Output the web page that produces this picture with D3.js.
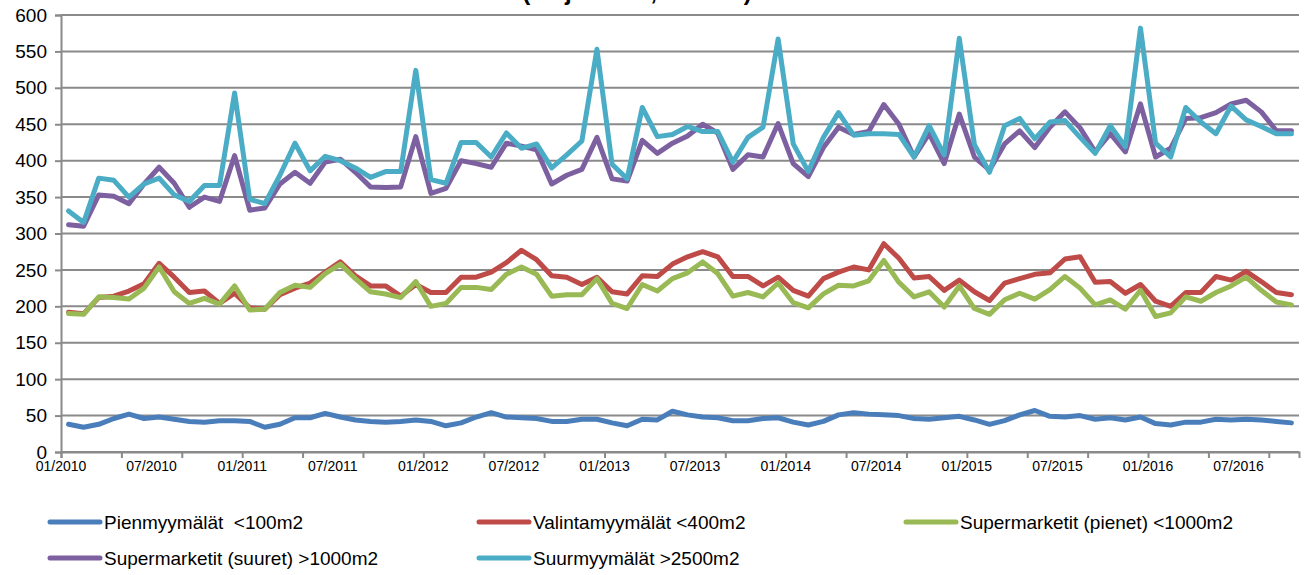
<!DOCTYPE html>
<html>
<head>
<meta charset="utf-8">
<script src="https://cdn.jsdelivr.net/npm/d3@7"></script>
<style>
  body { margin: 0; background: #fff; }
  text { font-family: "Liberation Sans", Arial, sans-serif; fill: #000; }
</style>
</head>
<body>
<div id="chart-area"></div>
<script>
// monthly sales, 01/2010 - 10/2016
let pienmyymalat = [38,34,38,46,52,46,48,45,42,41,43,43,42,34,38,47,47,53,48,44,42,41,42,44,42,36,40,48,
  54,48,47,46,42,42,45,45,40,36,45,44,56,51,48,47,43,43,46,47,41,37,42,51,
  54,52,51,50,46,45,47,49,44,38,43,51,57,49,48,50,45,47,44,48,39,37,41,41,
  45,44,45,44,42,40]
let valintamyymalat = [192,190,212,214,221,231,259,240,219,221,204,218,198,196,216,225,232,247,261,242,228,228,214,230,219,219,240,240,
  247,260,277,264,242,240,230,240,220,217,242,241,258,268,275,268,241,241,228,240,222,214,238,247,
  254,250,286,266,239,241,222,236,220,208,232,238,244,246,265,268,233,234,218,230,207,200,219,219,
  241,236,248,234,219,216]
let superPienet = [190,189,213,212,210,225,254,220,204,211,203,228,195,196,219,229,226,245,258,238,220,217,212,234,200,204,226,226,
  223,244,254,244,214,216,216,238,204,197,230,221,238,246,261,245,214,219,213,232,205,198,217,229,
  228,235,263,233,213,220,199,228,197,189,209,218,210,223,241,225,202,209,196,222,186,191,213,207,
  219,228,240,222,206,202]
let superSuuret = [312,310,353,351,341,368,391,369,336,350,344,407,332,335,368,384,369,398,402,384,364,363,364,433,355,362,400,396,
  391,424,420,415,368,380,388,432,375,372,428,410,424,434,450,438,388,408,405,451,396,378,418,446,
  436,440,477,450,405,437,396,464,405,387,423,441,418,446,467,445,412,437,412,478,405,417,458,459,
  466,478,483,467,441,441]
let suurmyymalat = [331,315,376,373,350,368,376,353,344,366,366,493,347,341,380,424,386,406,400,390,377,385,385,524,374,369,425,425,
  405,438,417,423,390,408,427,553,395,375,473,433,436,447,440,440,398,432,446,567,423,385,432,466,
  435,437,437,436,405,448,408,568,422,384,448,458,430,453,455,432,410,448,419,582,424,405,473,453,
  437,475,456,447,437,437]

let seriesNames = ["Pienmyymälät  <100m2", "Valintamyymälät <400m2", "Supermarketit (pienet) <1000m2",
  "Supermarketit (suuret) >1000m2", "Suurmyymälät >2500m2"]
let seriesValues = [pienmyymalat, valintamyymalat, superPienet, superSuuret, suurmyymalat]
let seriesColors = ["#4a7ebb", "#be4b48", "#98b954", "#7d60a0", "#4bacc6"]

let months = d3.timeMonths(new Date(2010, 0, 1), new Date(2016, 10, 1)).map(d3.timeFormat("%m/%Y"))
let xTickLabels = ["01/2010","07/2010","01/2011","07/2011","01/2012","07/2012","01/2013",
  "07/2013","01/2014","07/2014","01/2015","07/2015","01/2016","07/2016"]
let yTicks = [0,50,100,150,200,250,300,350,400,450,500,550,600]

let width = 1307, height = 575
let plot = { left: 61, right: 1299, top: 15, bottom: 452 }
let gridColor = "#8a8a8a"

let svg = d3.select("#chart-area").append("svg")
  .attr("width", width)
  .attr("height", height)

let x = d3.scaleLinear()
  .domain([0, months.length])
  .range([plot.left, plot.right])

let y = d3.scaleLinear()
  .domain([0, 600])
  .range([plot.bottom, plot.top])

// title (mostly cut off at the top edge)
svg.append("text")
  .attr("x", 637)
  .attr("y", 0)
  .attr("text-anchor", "middle")
  .attr("font-size", 24)
  .attr("font-weight", "bold")
  .text("(milj. euroa, sis. alv)")

// gridlines
svg.append("g")
  .selectAll("line")
  .data(yTicks)
  .enter().append("line")
    .attr("x1", plot.left)
    .attr("x2", plot.right)
    .attr("y1", d => y(d))
    .attr("y2", d => y(d))
    .attr("stroke", gridColor)
    .attr("stroke-width", 2)

// y axis
let yAxis = svg.append("g")
  .attr("transform", "translate(" + plot.left + ",0)")
  .call(d3.axisLeft(y).tickValues(yTicks).tickSize(6).tickPadding(8))
yAxis.select(".domain").attr("stroke", gridColor).attr("stroke-width", 2)
yAxis.selectAll(".tick line").attr("stroke", gridColor).attr("stroke-width", 2)
yAxis.selectAll(".tick text")
  .attr("font-size", 19)
  .attr("font-family", "Liberation Sans, Arial, sans-serif")
  .attr("fill", "#000")

// x axis: tick marks every 4 months, labels every 6 months
let tickIdx = d3.range(0, months.length, 4)
let xAxis = svg.append("g")
  .attr("transform", "translate(0," + plot.bottom + ")")
  .call(d3.axisBottom(x).tickValues(tickIdx).tickSize(6).tickFormat(""))
xAxis.select(".domain").attr("stroke", gridColor).attr("stroke-width", 2)
xAxis.selectAll(".tick line").attr("stroke", gridColor).attr("stroke-width", 2)

svg.append("g")
  .selectAll("text")
  .data(xTickLabels)
  .enter().append("text")
    .attr("x", d => x(months.indexOf(d)))
    .attr("y", plot.bottom + 19)
    .attr("text-anchor", "middle")
    .attr("font-size", 14)
    .text(d => d)

// lines
let line = d3.line()
  .x((d, i) => x(i + 0.5))
  .y(d => y(d))

svg.append("g")
  .selectAll("path")
  .data(seriesValues)
  .enter().append("path")
    .attr("d", d => line(d))
    .attr("fill", "none")
    .attr("stroke", (d, i) => seriesColors[i])
    .attr("stroke-width", 5)
    .attr("stroke-linejoin", "round")
    .attr("stroke-linecap", "round")

// legend
let legendPos = [[48, 522], [477, 522], [904, 522], [48, 558], [477, 558]]
let legend = svg.append("g")
  .selectAll("g")
  .data(seriesNames)
  .enter().append("g")
    .attr("transform", (d, i) => "translate(" + legendPos[i][0] + "," + legendPos[i][1] + ")")

legend.append("line")
  .attr("x1", 2)
  .attr("x2", 52)
  .attr("stroke", (d, i) => seriesColors[i])
  .attr("stroke-width", 5)
  .attr("stroke-linecap", "round")

legend.append("text")
  .attr("x", 56)
  .attr("y", 7)
  .attr("font-size", 19)
  .attr("xml:space", "preserve")
  .style("white-space", "pre")
  .text(d => d)
</script>
</body>
</html>
